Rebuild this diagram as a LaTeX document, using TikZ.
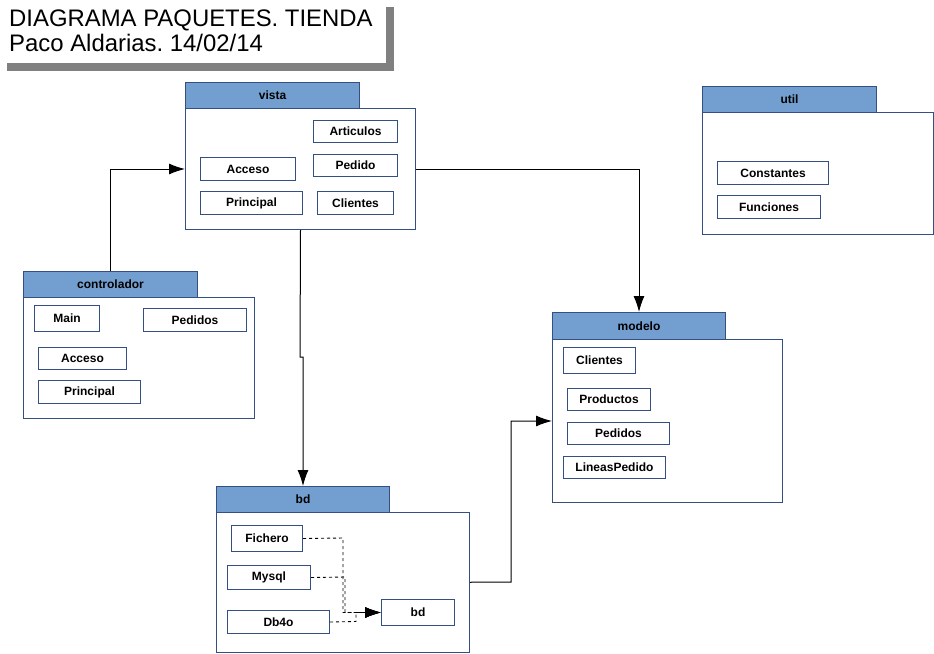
\documentclass[tikz,border=0pt]{standalone}
\usepackage{fontspec}
\setmainfont{Liberation Sans}
\usepackage{tikz}
\usetikzlibrary{arrows.meta}
\definecolor{tabfill}{RGB}{114,159,207}
\definecolor{pkgline}{RGB}{52,80,130}
\definecolor{shadow}{RGB}{128,128,128}
\frenchspacing

\begin{document}
\begin{tikzpicture}[x=1pt,y=-1pt]
\tikzset{pkgtab/.style = {shape=rectangle,draw=pkgline,fill=tabfill,line width=1pt,
inner sep=0pt,anchor=north west,font=\fontsize{12}{14}\selectfont\bfseries}}
\tikzset{pkgbody/.style = {shape=rectangle,draw=pkgline,fill=white,line width=1pt,
inner sep=0pt,anchor=north west}}
\tikzset{cls/.style = {shape=rectangle,draw=pkgline,fill=white,line width=1pt,
inner sep=0pt,anchor=north west,font=\fontsize{12}{14}\selectfont\bfseries}}
\tikzset{edge/.style = {line width=1pt,-{Latex[length=16pt,width=11pt]}}}
\tikzset{dep/.style = {line width=0.9pt,dashed,-{Latex[length=16pt,width=11pt]}}}
\useasboundingbox (0,0) rectangle (934,653);
% title
\fill[shadow] (7,7) rectangle (394,71);
\fill[white] (7,7) rectangle (386,63);
\node[anchor=base west,inner sep=0pt,font=\fontsize{23.9}{24}\selectfont] (t1) at (9,27) {DIAGRAMA PAQUETES. TIENDA};
\node[anchor=base west,inner sep=0pt,font=\fontsize{23.9}{24}\selectfont] (t2) at (9,51) {Paco Aldarias. 14/02/14};
% vista
\node[pkgbody,minimum width=230pt,minimum height=121pt] (vista) at (185,108) {};
\node[pkgtab,minimum width=174pt,minimum height=26pt] (vistaTab) at (185,82) {vista};
\node[cls,minimum width=84pt,minimum height=22pt] (vArt) at (313,120) {Articulos};
\node[cls,minimum width=95pt,minimum height=23pt] (vAcc) at (200,157) {Acceso};
\node[cls,minimum width=84pt,minimum height=22pt] (vPed) at (313,154) {Pedido};
\node[cls,minimum width=102pt,minimum height=23pt] (vPri) at (200,191) {Principal};
\node[cls,minimum width=76pt,minimum height=23pt] (vCli) at (317,191) {Clientes};
% controlador
\node[pkgbody,minimum width=231pt,minimum height=121pt] (ctrl) at (23,297) {};
\node[pkgtab,minimum width=174pt,minimum height=26pt] (ctrlTab) at (23,271) {controlador};
\node[cls,minimum width=65pt,minimum height=26pt] (cMain) at (34,305) {Main};
\node[cls,minimum width=103pt,minimum height=23pt] (cPed) at (143,308) {Pedidos};
\node[cls,minimum width=88pt,minimum height=22pt] (cAcc) at (38,347) {Acceso};
\node[cls,minimum width=102pt,minimum height=23pt] (cPri) at (38,380) {Principal};
% modelo
\node[pkgbody,minimum width=230pt,minimum height=163pt] (modelo) at (552,339) {};
\node[pkgtab,minimum width=173pt,minimum height=27pt] (modTab) at (552,312) {modelo};
\node[cls,minimum width=72pt,minimum height=26pt] (mCli) at (563,347) {Clientes};
\node[cls,minimum width=83pt,minimum height=22pt] (mPro) at (567,388) {Productos};
\node[cls,minimum width=102pt,minimum height=22pt] (mPed) at (567,422) {Pedidos};
\node[cls,minimum width=102pt,minimum height=22pt] (mLin) at (563,456) {LineasPedido};
% util
\node[pkgbody,minimum width=231pt,minimum height=122pt] (util) at (702,112) {};
\node[pkgtab,minimum width=174pt,minimum height=26pt] (utilTab) at (702,86) {util};
\node[cls,minimum width=111pt,minimum height=23pt] (uCon) at (717,161) {Constantes};
\node[cls,minimum width=103pt,minimum height=23pt] (uFun) at (717,195) {Funciones};
% bd
\node[pkgbody,minimum width=253pt,minimum height=139.5pt] (bd) at (216,512) {};
\node[pkgtab,minimum width=173pt,minimum height=26pt] (bdTab) at (216,486) {bd};
\node[cls,minimum width=71pt,minimum height=26pt] (bFic) at (231,525) {Fichero};
\node[cls,minimum width=83pt,minimum height=24pt] (bMys) at (227,565) {Mysql};
\node[cls,minimum width=102pt,minimum height=23pt] (bDb4) at (227,610) {Db4o};
\node[cls,minimum width=73pt,minimum height=26pt] (bIn) at (381,599) {bd};
% bends
\coordinate (j1) at (300,357);
\coordinate (j2) at (511,582);
\coordinate (d1) at (343,538);
\coordinate (d2) at (345,577);
\coordinate (d3) at (356,621.5);
% edges
\draw[edge] (ctrlTab.north) |- (vista.west);
\draw[edge] (vista.south) -- (j1) -| (bdTab.north);
\draw[edge] (vista.east) -| (modTab.north);
\draw[edge] (bd.east) -- (j2) |- (modelo.west);
\draw[dep] (bFic.east) -- (d1) |- (bIn.west);
\draw[dep] (bMys.east) -- (d2) |- (bIn.west);
\draw[dep] (bDb4.east) -- (d3) |- (bIn.west);
\end{tikzpicture}
\end{document}
